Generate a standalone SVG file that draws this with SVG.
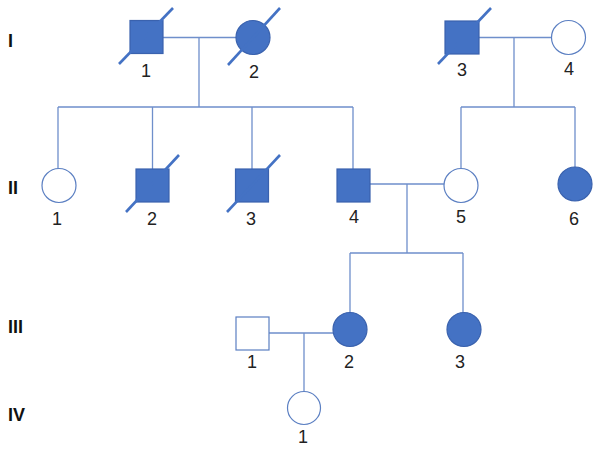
<svg xmlns="http://www.w3.org/2000/svg" width="600" height="455" viewBox="0 0 600 455">
<style>
.fill{fill:#4472C4;stroke:#3A62AE;stroke-width:1.2}
.open{fill:#fff;stroke:#5B7FC2;stroke-width:1.2}
.ln{fill:none;stroke:#6F8FCB;stroke-width:1.3}
.sl{stroke:#4472C4;stroke-width:2.6;stroke-linecap:butt}
.num{font-family:"Liberation Sans","Noto Sans",sans-serif;font-size:18px;fill:#222;text-anchor:middle}
.gen{font-family:"Liberation Sans","Noto Sans",sans-serif;font-size:18px;font-weight:bold;fill:#111}
</style>
<rect width="600" height="455" fill="#fff"/>
<g id="connectors">
<path class="ln" d="M163 37.5H236M199 37.5V107M58 107H353M58 107V169M152.5 107V169M252 107V169M353 107V169"/>
<path class="ln" d="M479 37.5H551M514 37.5V107M461 107H575M461 107V168M575 107V167"/>
<path class="ln" d="M370 184H444M407 184V253M350 253H463M350 253V313M463 253V313"/>
<path class="ln" d="M269 333H333M304 333V392"/>
</g>
<g id="gen-labels">
<text class="gen" x="8" y="47">I</text>
<text class="gen" x="8" y="194">II</text>
<text class="gen" x="8" y="333">III</text>
<text class="gen" x="8" y="421">IV</text>
</g>
<g id="I-1"><rect class="fill" x="130" y="20.5" width="33" height="33"/><line class="sl" x1="119" y1="64" x2="173" y2="8"/><text class="num" x="146" y="77">1</text></g>
<g id="I-2"><circle class="fill" cx="253" cy="37.5" r="17"/><line class="sl" x1="228" y1="65" x2="280" y2="8"/><text class="num" x="254" y="78">2</text></g>
<g id="I-3"><rect class="fill" x="445" y="21" width="34" height="33"/><line class="sl" x1="438" y1="64" x2="491" y2="8"/><text class="num" x="462" y="76">3</text></g>
<g id="I-4"><circle class="open" cx="568.5" cy="37.5" r="17"/><text class="num" x="569" y="75">4</text></g>
<g id="II-1"><circle class="open" cx="59" cy="185.5" r="17"/><text class="num" x="57" y="225">1</text></g>
<g id="II-2"><rect class="fill" x="136" y="169" width="33" height="33"/><line class="sl" x1="126" y1="212" x2="179" y2="155"/><text class="num" x="152" y="225">2</text></g>
<g id="II-3"><rect class="fill" x="235.5" y="169" width="33" height="33"/><line class="sl" x1="227" y1="212" x2="280" y2="155"/><text class="num" x="251" y="225">3</text></g>
<g id="II-4"><rect class="fill" x="337" y="169" width="33" height="33"/><text class="num" x="354" y="223">4</text></g>
<g id="II-5"><circle class="open" cx="461" cy="185.5" r="17"/><text class="num" x="461" y="223">5</text></g>
<g id="II-6"><circle class="fill" cx="575" cy="184" r="17"/><text class="num" x="574" y="225">6</text></g>
<g id="III-1"><rect class="open" x="236" y="317" width="33" height="33"/><text class="num" x="252" y="368">1</text></g>
<g id="III-2"><circle class="fill" cx="350" cy="329.5" r="17"/><text class="num" x="349" y="368">2</text></g>
<g id="III-3"><circle class="fill" cx="464" cy="329.5" r="17"/><text class="num" x="460" y="368">3</text></g>
<g id="IV-1"><circle class="open" cx="304" cy="408" r="16.5"/><text class="num" x="303" y="443">1</text></g>
</svg>
